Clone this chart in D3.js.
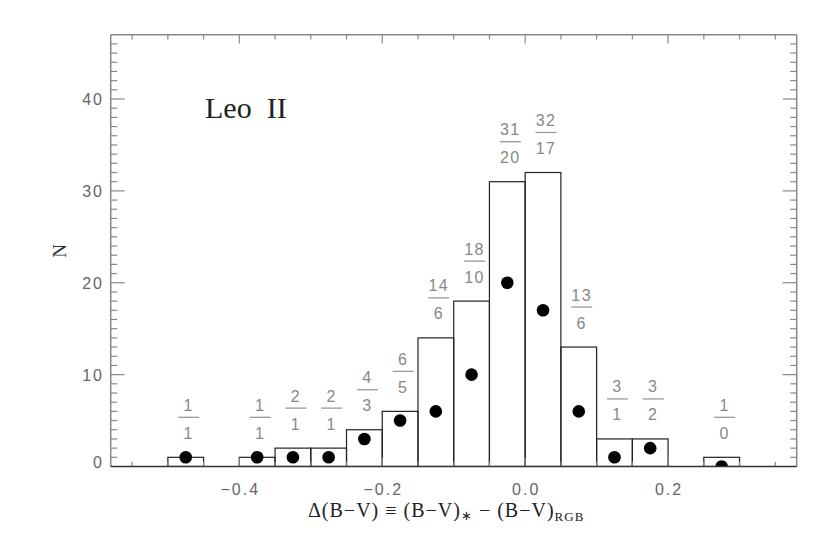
<!DOCTYPE html>
<html>
<head>
<meta charset="utf-8">
<script src="https://cdn.jsdelivr.net/npm/d3@7"></script>
<style>
  body { margin: 0; background: #fff; }
  svg { display: block; }
</style>
</head>
<body>
<div id="chart"></div>
<script>
// histogram bins (left edges), bin width 0.05
const binLeft = [-0.50, -0.45, -0.40, -0.35, -0.30, -0.25, -0.20, -0.15, -0.10, -0.05, 0.00, 0.05, 0.10, 0.15, 0.20, 0.25];
// total stars per bin (bar heights / numerators)
const allCounts = [1, 0, 1, 2, 2, 4, 6, 14, 18, 31, 32, 13, 3, 3, 0, 1];
// subsample per bin (dots / denominators), null = not shown
const subCounts = [1, null, 1, 1, 1, 3, 5, 6, 10, 20, 17, 6, 1, 2, null, 0];
const binWidth = 0.05;

const xTicksMajor = [-0.4, -0.2, 0.0, 0.2];
const yTicksMajor = [0, 10, 20, 30, 40];

const width = 830, height = 537;
const plot = { left: 110.7, right: 796.7, top: 34.7, bottom: 466.5 };

const svg = d3.select("#chart").append("svg")
  .attr("width", width)
  .attr("height", height);

const x = d3.scaleLinear().domain([-0.58, 0.38]).range([plot.left, plot.right]);
const y = d3.scaleLinear().domain([0, 47]).range([plot.bottom, plot.top]);

// clip for the marks
svg.append("defs").append("clipPath").attr("id", "plot-clip")
  .append("rect")
  .attr("x", plot.left).attr("y", plot.top)
  .attr("width", plot.right - plot.left)
  .attr("height", plot.bottom - plot.top);

const bins = binLeft.map((b, i) => ({ x0: b, x1: b + binWidth, n: allCounts[i], sub: subCounts[i] }));

// bars
const marks = svg.append("g").attr("clip-path", "url(#plot-clip)");
marks.selectAll("rect.bar")
  .data(bins)
  .enter()
  .append("rect")
  .attr("class", "bar")
  .attr("x", d => x(d.x0))
  .attr("y", d => y(d.n))
  .attr("width", d => x(d.x1) - x(d.x0))
  .attr("height", d => y(0) - y(d.n))
  .attr("fill", "none")
  .attr("stroke", d => d.n === 0 ? "#999" : "#222")
  .attr("stroke-width", 1.2);

// dots for the subsample
marks.selectAll("circle.dot")
  .data(bins.filter(d => d.sub !== null))
  .enter()
  .append("circle")
  .attr("class", "dot")
  .attr("cx", d => x((d.x0 + d.x1) / 2))
  .attr("cy", d => y(d.sub))
  .attr("r", 6.3)
  .attr("fill", "#000");

// fraction labels above bars
const fracs = svg.append("g")
  .selectAll("g.frac")
  .data(bins.filter(d => d.n > 0))
  .enter()
  .append("g")
  .attr("class", "frac")
  .attr("transform", d => `translate(${x((d.x0 + d.x1) / 2) + 3}, ${y(d.n) - 40})`);

fracs.append("line")
  .attr("x1", -10.5).attr("x2", 10.5)
  .attr("y1", 0).attr("y2", 0)
  .attr("stroke", "#999")
  .attr("stroke-width", 1.3);

fracs.append("text")
  .attr("y", -6.5)
  .attr("text-anchor", "middle")
  .style("font-family", "Liberation Sans, Arial, sans-serif")
  .style("font-size", "16px")
  .style("letter-spacing", "1.5px")
  .attr("fill", "#888")
  .text(d => d.n);

fracs.append("text")
  .attr("y", 21.5)
  .attr("text-anchor", "middle")
  .style("font-family", "Liberation Sans, Arial, sans-serif")
  .style("font-size", "16px")
  .style("letter-spacing", "1.5px")
  .attr("fill", "#888")
  .text(d => d.sub);

// ! Axes (IDL style: ticks on all four sides, pointing inward)
const axisColor = "#888";
const frame = svg.append("g");

const xMinor = d3.range(-0.55, 0.38, 0.05).map(v => +v.toFixed(2));
const yMinor = d3.range(1, 47, 1);

// bottom & top ticks
[plot.bottom, plot.top].forEach((yy, k) => {
  const dir = k === 0 ? -1 : 1;
  frame.selectAll(null)
    .data(xMinor)
    .enter()
    .append("line")
    .attr("x1", d => x(d)).attr("x2", d => x(d))
    .attr("y1", yy)
    .attr("y2", d => yy + dir * (xTicksMajor.some(t => Math.abs(t - d) < 1e-6) ? 8.7 : 4.7))
    .attr("stroke", axisColor)
    .attr("stroke-width", 1.2);
});

// left & right ticks
[plot.left, plot.right].forEach((xx, k) => {
  const dir = k === 0 ? 1 : -1;
  frame.selectAll(null)
    .data(yMinor)
    .enter()
    .append("line")
    .attr("y1", d => y(d)).attr("y2", d => y(d))
    .attr("x1", xx)
    .attr("x2", d => xx + dir * (d % 10 === 0 ? 14 : 6.5))
    .attr("stroke", axisColor)
    .attr("stroke-width", 1.2);
});

// frame lines
frame.append("line")
  .attr("x1", plot.left).attr("x2", plot.right)
  .attr("y1", plot.top).attr("y2", plot.top)
  .attr("stroke", axisColor).attr("stroke-width", 1.5);
frame.append("line")
  .attr("x1", plot.left).attr("x2", plot.left)
  .attr("y1", plot.top).attr("y2", plot.bottom)
  .attr("stroke", axisColor).attr("stroke-width", 1.5);
frame.append("line")
  .attr("x1", plot.right).attr("x2", plot.right)
  .attr("y1", plot.top).attr("y2", plot.bottom)
  .attr("stroke", axisColor).attr("stroke-width", 1.5);
frame.append("line")
  .attr("x1", plot.left).attr("x2", plot.right)
  .attr("y1", plot.bottom).attr("y2", plot.bottom)
  .attr("stroke", "#333").attr("stroke-width", 1.3);

// tick labels
const fmtX = d => d3.format(".1f")(d).replace("-", "\u2212");
svg.append("g")
  .selectAll("text")
  .data(xTicksMajor)
  .enter()
  .append("text")
  .attr("x", d => x(d) + 1)
  .attr("y", 494.5)
  .attr("text-anchor", "middle")
  .style("font-family", "Liberation Sans, Arial, sans-serif")
  .style("font-size", "16px")
  .style("letter-spacing", "2px")
  .attr("fill", "#666")
  .text(fmtX);

svg.append("g")
  .selectAll("text")
  .data(yTicksMajor)
  .enter()
  .append("text")
  .attr("x", 104)
  .attr("y", d => y(d) + 6 - (d === 0 ? 5 : 0))
  .attr("text-anchor", "end")
  .style("font-family", "Liberation Sans, Arial, sans-serif")
  .style("font-size", "16px")
  .style("letter-spacing", "2px")
  .attr("fill", "#666")
  .text(d => d);

// axis titles
svg.append("text")
  .attr("transform", "translate(66, 251) rotate(-90)")
  .attr("text-anchor", "middle")
  .style("font-family", "Liberation Serif, Times New Roman, serif")
  .style("font-size", "19px")
  .attr("fill", "#333")
  .text("N");

const xTitle = svg.append("text")
  .attr("x", 308)
  .attr("y", 516.5)
  .style("font-family", "Liberation Serif, Times New Roman, serif")
  .style("font-size", "20px")
  .style("letter-spacing", "1px")
  .attr("fill", "#222")
  .attr("xml:space", "preserve");
xTitle.append("tspan").text("\u0394(B\u2212V) \u2261 (B\u2212V)");
xTitle.append("tspan").attr("dy", 3).style("font-size", "13px").text("\u2217");
xTitle.append("tspan").attr("dy", -3).text(" \u2212 (B\u2212V)");
xTitle.append("tspan").attr("dy", 4).style("font-size", "13px").text("RGB");

// galaxy name
svg.append("text")
  .attr("x", 205)
  .attr("y", 117.7)
  .style("font-family", "Liberation Serif, Times New Roman, serif")
  .style("font-size", "30px")
  .attr("fill", "#222")
  .attr("xml:space", "preserve")
  .text("Leo  II");
</script>
</body>
</html>
